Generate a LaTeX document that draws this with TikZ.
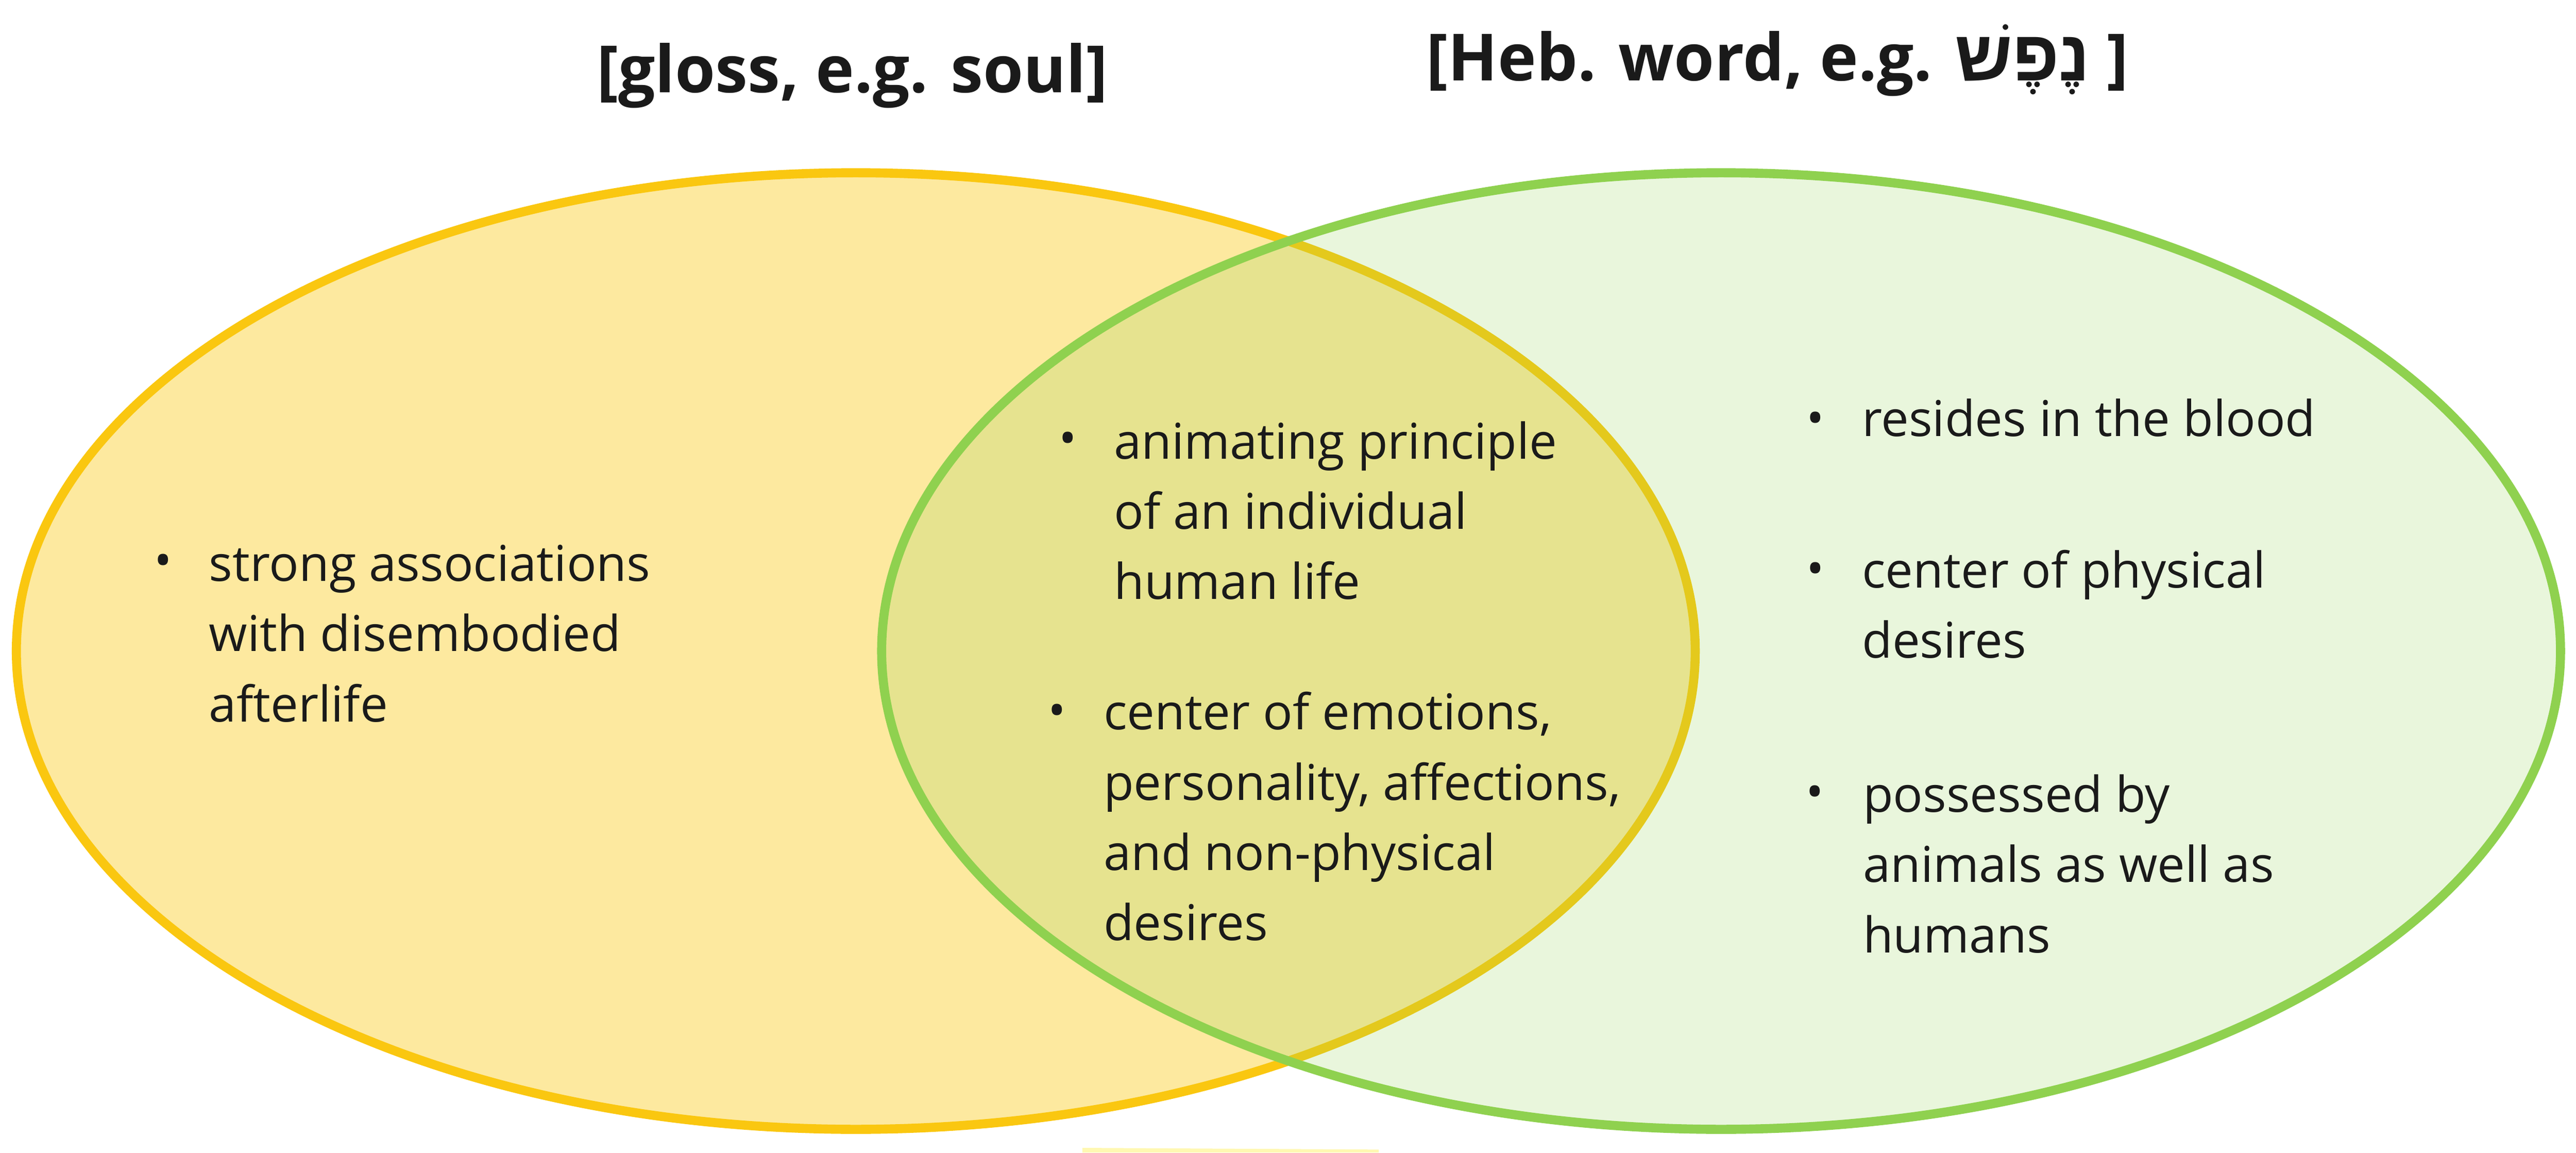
\documentclass[tikz,border=0pt]{standalone}
\usepackage{fontspec}
\setmainfont{Open Sans}
\newfontfamily\hebfont[Script=Hebrew,Scale=1.1]{Liberation Sans}
\TeXXeTstate=1
\usetikzlibrary{positioning}

\definecolor{soulyellow}{HTML}{FAC710}
\definecolor{nefeshgreen}{HTML}{8FD14F}
\definecolor{noteyellow}{HTML}{FFF8B2}
\definecolor{inkgray}{HTML}{1A1A1A}

\tikzset{
  heading/.style={anchor=base, inner sep=0pt, text=inkgray, font=\fontsize{21.5}{26}\selectfont\bfseries},
  item/.style={anchor=base west, align=left, inner sep=0pt, text=inkgray, font=\fontsize{16.3}{23.2}\selectfont},
  dot/.style={inner sep=0pt, text=inkgray, font=\fontsize{15.6}{23.2}\selectfont},
}

\begin{document}
\begin{tikzpicture}
\useasboundingbox (0,0) rectangle (29.905,13.375);

% the two sets
\draw [line width=3pt, soulyellow, fill=soulyellow, fill opacity=0.4] (9.935,5.82) ellipse (9.745 and 5.55);
\draw [line width=3pt, nefeshgreen, fill=nefeshgreen, fill opacity=0.2] (19.98,5.82) ellipse (9.745 and 5.55);

% headings
\node [heading] (gloss) at (9.895,12.3) {[gloss, e.g. soul]};
\node [heading] (hebword) at (20.635,12.44) {[Heb. word, e.g. {\hebfont\beginR נֶפֶשׁ\endR}\ ]};

% gloss only (base = last line)
\node [item] (assoc) at (2.42,5.0) {strong associations\\with disembodied\\afterlife};
\node [dot] at (1.895,6.81) {•};

% shared
\node [item] (animating) at (12.925,6.42) {animating principle\\of an individual\\human life};
\node [dot] at (12.395,8.23) {•};
\node [item] (emotions) at (12.805,2.46) {center of emotions,\\personality, affections,\\and non-physical\\desires};
\node [dot] at (12.27,5.07) {•};

% Hebrew word only
\node [item] (blood) at (21.61,8.31) {resides in the blood};
\node [dot] at (21.075,8.465) {•};
\node [item] (physical) at (21.61,5.74) {center of physical\\desires};
\node [dot] at (21.075,6.715) {•};
\node [item] (animals) at (21.62,2.32) {possessed by\\animals as well as\\humans};
\node [dot] at (21.07,4.125) {•};

% edge of a note below
\fill [noteyellow] (12.565,0) -- (12.565,0.055) -- (16.005,0.035) -- (16.005,0) -- cycle;

\end{tikzpicture}
\end{document}
